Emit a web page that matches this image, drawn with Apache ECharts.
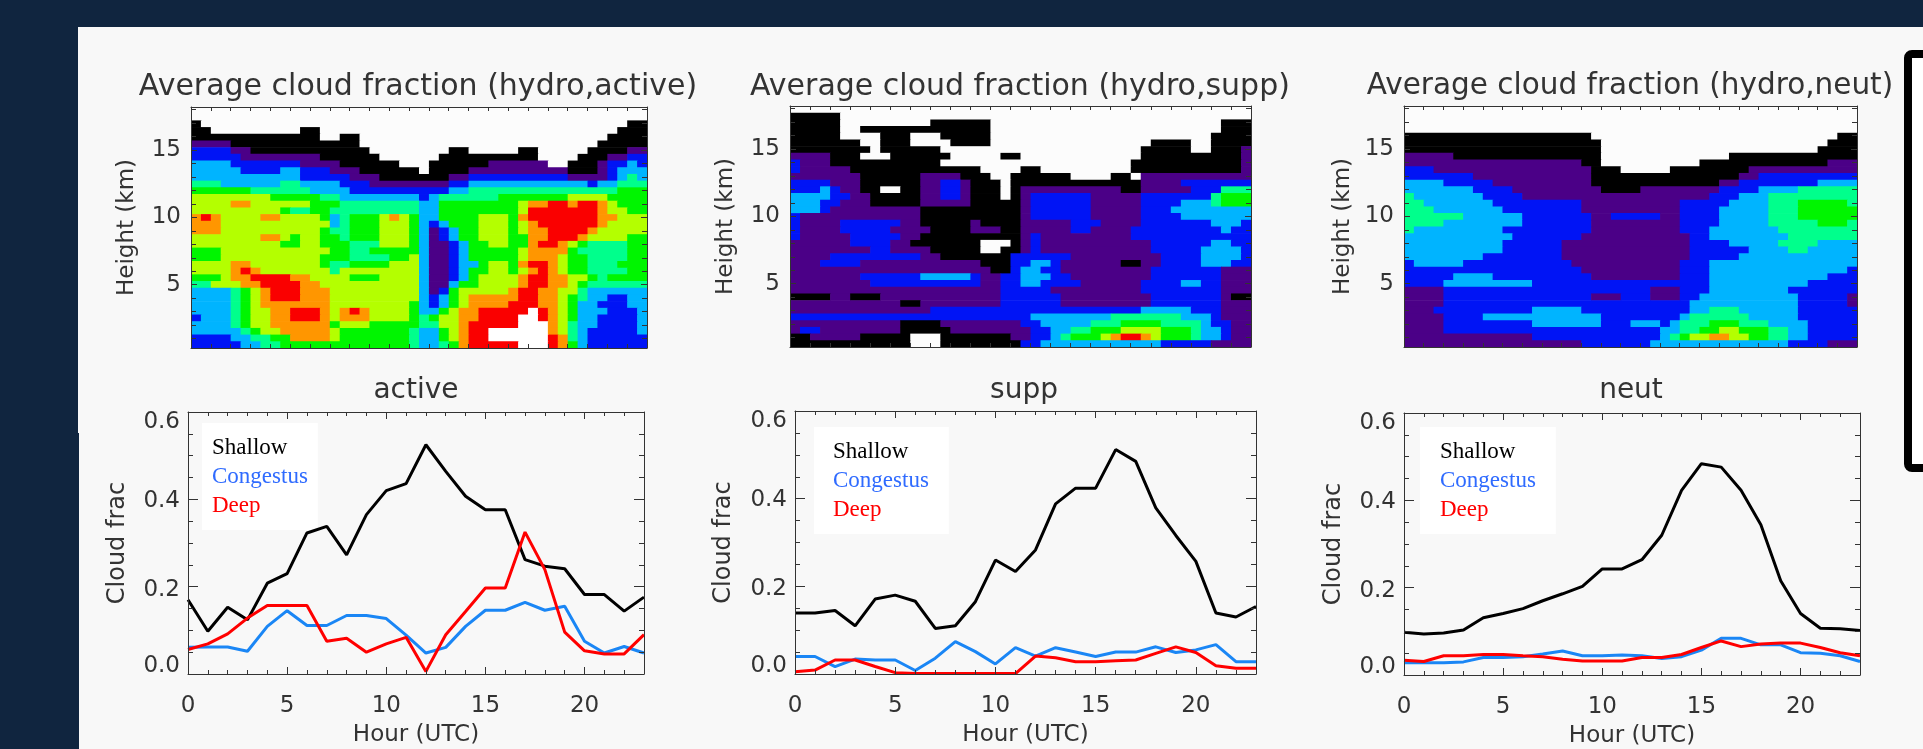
<!DOCTYPE html>
<html><head><meta charset="utf-8">
<style>html,body{margin:0;padding:0;background:#10253f;overflow:hidden}#c{width:1923px;height:749px}</style>
<script src="https://cdn.jsdelivr.net/npm/echarts@6/dist/echarts.min.js"></script>
</head><body><div id="c"></div>
<script>
const hours=[0,1,2,3,4,5,6,7,8,9,10,11,12,13,14,15,16,17,18,19,20,21,22,23];
const activeShallow=[.17,.098,.153,.124,.208,.23,.323,.338,.273,.365,.42,.436,.525,.464,.407,.376,.376,.262,.247,.241,.182,.182,.144,.176];
const activeCongestus=[.061,.062,.062,.052,.109,.145,.111,.111,.134,.134,.127,.089,.048,.061,.109,.146,.146,.164,.146,.155,.075,.048,.063,.048];
const activeDeep=[.056,.069,.092,.128,.157,.157,.157,.075,.082,.05,.069,.084,.006,.09,.143,.197,.197,.325,.239,.096,.053,.046,.046,.09];
const suppShallow=[.139,.139,.145,.11,.171,.18,.166,.104,.11,.165,.26,.234,.283,.388,.424,.424,.512,.485,.379,.316,.257,.139,.13,.154];
const suppCongestus=[.04,.04,.017,.034,.032,.032,.008,.036,.074,.051,.023,.06,.041,.06,.05,.04,.05,.05,.062,.049,.055,.067,.028,.028];
const suppDeep=[.005,.009,.032,.032,.017,.003,.001,.001,.001,.001,.001,.001,.041,.037,.028,.028,.03,.032,.047,.062,.049,.019,.013,.013];
const neutShallow=[.098,.094,.096,.103,.131,.141,.152,.17,.186,.203,.243,.243,.264,.32,.423,.484,.476,.423,.344,.216,.141,.107,.106,.102];
const neutCongestus=[.028,.028,.028,.03,.04,.04,.042,.048,.055,.044,.044,.046,.044,.038,.042,.057,.084,.084,.069,.069,.051,.05,.044,.031];
const neutDeep=[.034,.031,.044,.044,.047,.047,.044,.042,.036,.032,.032,.032,.04,.04,.047,.063,.078,.065,.071,.073,.073,.063,.051,.044];

// Cloud-fraction class per half-hour column, top row 18.2 km down to 0.3 km.
// Token = class character + first half-hour column of that run.
const activeRows=[
".0",".0","00 .1 044","00 .2 011 .13 043","00 .13 015 .17 042","10 04 .17 041",
"20 14 06 .18 026 .28 033 .35 040 144",
"20 15 013 .19 025 .35 039 142 244",
"30 24 111 015 .21 024 130 .36 038 141 242 344 245",
"30 25 39 211 114 017 .23 024 128 038 141 242 343",
"30 211 116 019 126 228 138 242 343 444 345",
"40 33 49 311 215 118 226 328 240 341 443",
"50 46 312 216 326 428 543",
"60 58 413 315 223 324 425 531 638 542",
"60 74 66 512 415 323 525 633 734 836 738 839 741 642 543",
"60 59 410 512 414 323 525 633 834 741 642 544",
"70 81 72 63 77 69 513 314 415 516 619 720 621 522 323 525 629 532 733 834 741 643",
"70 63 314 415 516 619 522 323 224 325 526 629 532 633 734 835 741 642",
"70 63 513 414 516 619 522 323 124 225 326 527 629 532 633 734 836 740 641",
"60 77 69 510 611 513 415 516 619 522 323 124 225 326 527 629 532 734 836 739 640 544",
"60 59 611 513 416 619 522 323 124 226 327 528 630 532 734 835 737 638 539 440 544",
"50 63 514 416 518 323 124 226 327 528 633 734 737 538 439 544",
"50 63 513 416 520 622 323 124 226 327 528 633 734 637 538 440 544",
"60 74 66 513 414 516 620 323 124 226 327 529 630 532 733 834 736 637 538 440 543",
"60 74 85 76 67 414 615 323 124 226 327 528 630 532 633 734 835 736 637 538 440 544",
"50 63 74 86 710 612 516 619 323 124 226 327 528 629 733 834 736 638 540 441 542",
"40 62 75 87 711 613 323 124 326 527 629 733 834 736 638 539 440",
"30 44 55 66 77 88 711 614 323 124 225 526 627 732 833 735 637 439 340",
"30 44 55 66 77 88 711 614 323 224 325 526 627 728 833 735 637 538 439 340 242 344",
"30 44 55 66 77 614 522 323 224 325 526 627 728 832 735 637 538 339 241 344",
"30 44 55 66 78 810 713 614 715 816 717 618 522 323 525 626 727 829 934 835 736 637 538 339 242 345",
"20 31 44 55 66 78 810 713 614 715 618 522 423 524 625 727 829 933 835 736 637 538 339 241 345",
"30 44 55 66 78 514 615 518 423 625 727 828 933 736 637 438 339 241 345",
"30 45 56 67 79 614 515 422 323 525 626 727 828 930 736 637 438 339 240 345",
"20 34 46 58 710 614 515 422 323 525 626 727 828 930 836 737 438 339 240",
"20 35 47 59 422 323 425 526 727 828 933 836 737 538 339 240"];
const suppRows=[
".0","00 .5","00 .5 014 .20 043","00 .5 07 .20 043","00 .5 09 .12 015 .20 042","00 .7 09 .12 016 .20 036 .40 042",
"00 .8 09 .15 035 .40 042 145",
"10 04 .7 010 .16 021 .23 035 145",
"20 11 04 .15 034 145",
"20 11 06 .19 023 .25 034 145",
"10 07 113 017 .20 022 .28 032 .34 135",
"20 14 07 113 215 117 018 .21 022 135 239",
"20 33 24 15 07 .9 011 113 215 117 018 .21 022 123 033 135 240 443",
"30 24 16 08 113 215 117 018 .21 022 123 224 130 235 442 543",
"30 23 15 08 113 018 123 224 130 235 339 442 543",
"30 23 14 013 123 224 130 235 338",
"20 11 013 123 224 130 235 339",
"20 11 25 111 013 118 019 123 228 131 235 342 245",
"20 11 25 110 014 118 021 123 228 130 234 343 244",
"20 11 26 111 013 123 224 125 234",
"10 26 110 012 .19 022 123 224 125 236 342 244",
"10 28 110 014 .19 021 123 224 125 236 341 245",
"10 24 113 015 222 128 237 341 245",
"10 23 17 019 222 324 226 127 033 135 237 341 244",
"10 020 222 323 225 127 236 143",
"10 27 313 218 119 221 323 226 128 236 143",
"10 28 119 221 323 225 129 235 339 241 143",
"10 221 126 235 143",
"00 14 06 19 221 127 236 143 044",
"10 011 113 221 127 236 143",
"10 214 335 240 143",
"20 324 432 339 242 143",
"10 011 115 223 325 430 533 437 341 242 144",
"10 21 13 011 116 224 326 428 530 633 537 440 341 243 144",
"00 12 07 .12 015 122 224 326 427 528 631 732 833 735 636 537 440 341 243 144",
"00 .12 015 223 325 237 142"];
const neutRows=[
".0",".0",".0",".0","00 .19 044","00 .20 043","00 .20 042",
"10 05 .20 033",
"10 018 .20 030 143",
"20 13 019 .22 027 135",
"20 17 019 134 236",
"30 24 19 019 132 234 342",
"30 27 111 020 124 232 336 440",
"40 31 28 112 231 334 437",
"40 32 29 118 228 333 437 540 445",
"40 33 210 118 228 332 437 540",
"40 36 212 119 221 126 228 332 437 540",
"40 34 212 119 228 332 437 542 445",
"40 31 210 119 228 331 438",
"30 211 118 229 331 439",
"30 210 116 229 333 438 342",
"30 210 116 229 335 439 341",
"30 28 116 229 334",
"20 31 26 117 228 331",
"20 118 228 331 245",
"20 35 29 119 228 331 243",
"20 34 213 331 241",
"10 24 125 228 331 239",
"10 24 119 222 125 228 330 240 145",
"10 24 329 240 145",
"10 23 313 218 329 431 334 240",
"10 24 38 220 328 429 335 240",
"10 24 313 220 323 226 327 428 531 434 337 241",
"10 24 326 428 530 632 534 437 339 241",
"10 213 326 427 528 629 731 633 535 437 339 241",
"10 218 325 239 143"];

const classColor={'.':'#fcfcfc','0':'#000000','1':'#4b0087','2':'#0014f5','3':'#00b4ff','4':'#00ff8c','5':'#00f500','6':'#b4ff00','7':'#ff9600','8':'#fa0000','9':'#ffffff'};
const kmTop=18.2,kmBottom=.3,cols=46;
const FONT='"DejaVu Sans ExtraLight","DejaVu Sans"',INK='#333333';

function rowsToCells(rows){
  const step=(kmTop-kmBottom)/rows.length,out=[];
  rows.forEach((r,i)=>{
    const t=r.trim().split(/\s+/);
    t.forEach((k,j)=>{
      const a=+k.slice(1),b=j+1<t.length?+t[j+1].slice(1):cols;
      out.push([a/2,b/2,kmTop-(i+1)*step,kmTop-i*step,k[0]]);
    });
  });
  return out;
}
const renderCell=(params,api)=>{
  const a=api.coord([api.value(0),api.value(3)]),b=api.coord([api.value(1),api.value(2)]);
  const lvl=params.context.cells[params.dataIndex][4];
  return {type:'rect',shape:{x:a[0],y:a[1],width:b[0]-a[0]+.7,height:b[1]-a[1]+.7},style:{fill:classColor[lvl]}};
};

const grids=[],xAxes=[],yAxes=[],series=[],legends=[],titles=[];
const range=(a,b,s)=>{const o=[];for(let v=a;v<=b+1e-9;v+=s)o.push(+v.toFixed(3));return o;};

function axis(list,o){
  list.push({type:'value',gridIndex:o.g,position:o.pos,min:o.min,max:o.max,z:6,
    splitLine:{show:false},
    axisLine:{show:!!o.line,onZero:false,lineStyle:{color:'#333',width:1}},
    axisTick:{show:true,inside:true,length:o.len,customValues:o.ticks,lineStyle:{color:'#333',width:1}},
    axisLabel:o.labels?{show:true,customValues:o.labels,formatter:o.fmt,margin:o.margin,color:INK,fontFamily:FONT,fontSize:23,hideOverlap:false,showMinLabel:true,showMaxLabel:true}:{show:false},
    name:o.name||'',nameLocation:'middle',nameGap:o.gap||0,
    nameTextStyle:{color:INK,fontFamily:FONT,fontSize:o.nameSize||23}
  });
  return list.length-1;
}

function panelFrame(g,xp,yp){
  const xi=axis(xAxes,{g,pos:'bottom',min:0,max:23,len:xp.major,ticks:xp.majorTicks,labels:xp.labels,fmt:v=>String(v),margin:xp.margin,line:1,name:xp.name,gap:xp.gap});
  axis(xAxes,{g,pos:'bottom',min:0,max:23,len:xp.minor,ticks:xp.minorTicks});
  axis(xAxes,{g,pos:'top',min:0,max:23,len:xp.major,ticks:xp.majorTicks,line:1});
  axis(xAxes,{g,pos:'top',min:0,max:23,len:xp.minor,ticks:xp.minorTicks});
  const yi=axis(yAxes,{g,pos:'left',min:yp.min,max:yp.max,len:yp.major,ticks:yp.majorTicks,labels:yp.labels,fmt:yp.fmt,margin:yp.margin,line:1,name:yp.name,gap:yp.gap,nameSize:yp.nameSize});
  axis(yAxes,{g,pos:'left',min:yp.min,max:yp.max,len:yp.minor,ticks:yp.minorTicks});
  axis(yAxes,{g,pos:'right',min:yp.min,max:yp.max,len:yp.major,ticks:yp.majorTicks,line:1});
  axis(yAxes,{g,pos:'right',min:yp.min,max:yp.max,len:yp.minor,ticks:yp.minorTicks});
  return [xi,yi];
}

function contourPanel(box,rows,title,titleBox){
  const g=grids.length;
  grids.push({left:box[0],top:box[2],width:box[1]-box[0],height:box[3]-box[2],show:true,backgroundColor:classColor['.'],borderWidth:0});
  const [xi,yi]=panelFrame(g,
    {major:4,minor:4,majorTicks:range(0,23,5),minorTicks:range(0,23,1)},
    {min:kmBottom,max:kmTop,major:6,minor:5,majorTicks:[5,10,15],minorTicks:range(1,18,1),labels:[5,10,15],fmt:v=>String(v),margin:10,name:'Height (km)',gap:box[0]-titleBox.nameX,nameSize:23});
  const cells=rowsToCells(rows);
  series.push({type:'custom',xAxisIndex:xi,yAxisIndex:yi,clip:true,z:2,silent:true,coordinateSystem:'cartesian2d',
    encode:{x:[0,1],y:[2,3]},
    data:cells.map(c=>c.slice(0,4)),
    renderItem:(p,api)=>{p.context.cells=cells;return renderCell(p,api);}});
  titles.push({text:title,left:titleBox.x,top:titleBox.y,textAlign:'center',textVerticalAlign:'middle',padding:0,textStyle:{color:INK,fontFamily:FONT,fontWeight:'normal',fontSize:titleBox.size}});
}

function linePanel(box,sh,co,de,title,titleBox,lg){
  const g=grids.length;
  grids.push({left:box[0],top:box[2],width:box[1]-box[0],height:box[3]-box[2],show:false});
  const [xi,yi]=panelFrame(g,
    {major:7,minor:4,majorTicks:range(0,23,5),minorTicks:range(0,23,1),labels:[0,5,10,15,20],margin:21,name:'Hour (UTC)',gap:titleBox.hourGap},
    {min:0,max:.6,major:10,minor:5,majorTicks:[0,.2,.4,.6],minorTicks:range(0,.6,.05),labels:[.018,.193,.396,.577],fmt:v=>v.toFixed(1),margin:8,name:'Cloud frac',gap:box[0]-titleBox.nameX,nameSize:24});
  [['Shallow',sh,'#000000'],['Congestus',co,'#1a86f5'],['Deep',de,'#ff0000']].forEach(s=>{
    series.push({type:'line',name:s[0],xAxisIndex:xi,yAxisIndex:yi,z:3,silent:true,showSymbol:false,symbol:'none',
      lineStyle:{color:s[2],width:3},itemStyle:{color:s[2]},data:hours.map((h,i)=>[h,s[1][i]])});
  });
  titles.push({text:title,left:titleBox.x,top:titleBox.y,textAlign:'center',textVerticalAlign:'middle',padding:0,textStyle:{color:INK,fontFamily:FONT,fontWeight:'normal',fontSize:28}});
  legends.push({show:true,orient:'vertical',left:lg.x,top:lg.y,selectedMode:false,itemWidth:0,itemHeight:0,icon:'rect',itemGap:lg.gap,align:'left',
    padding:lg.pad,backgroundColor:'#ffffff',borderWidth:0,z:2,
    data:[{name:'Shallow',textStyle:{color:'#000'}},{name:'Congestus',textStyle:{color:'#2f6bff'}},{name:'Deep',textStyle:{color:'#ff0000'}}],
    textStyle:{fontFamily:'"Liberation Serif"',fontSize:23,padding:0}});
}

contourPanel([191,647,107,348],activeRows,'Average cloud fraction (hydro,active)',{x:418,y:87,size:30,nameX:139});
contourPanel([790,1251,106,347],suppRows,'Average cloud fraction (hydro,supp)',{x:1020,y:87,size:30,nameX:738});
contourPanel([1404,1857,106,347],neutRows,'Average cloud fraction (hydro,neut)',{x:1630,y:86,size:29.5,nameX:1355});
linePanel([188,644,412,674],activeShallow,activeCongestus,activeDeep,'active',{x:416,y:391,nameX:130,hourGap:50},{x:202,y:423,pad:[13,10,13,5],gap:6});
linePanel([795,1256,411,674],suppShallow,suppCongestus,suppDeep,'supp',{x:1024,y:391,nameX:736,hourGap:50},{x:814,y:427,pad:[13,20,13,14],gap:6});
linePanel([1404,1860,413,675],neutShallow,neutCongestus,neutDeep,'neut',{x:1631,y:391,nameX:1346,hourGap:50},{x:1420,y:427,pad:[13,20,13,15],gap:6});

const chart=echarts.init(document.getElementById('c'),null,{renderer:'canvas'});
chart.setOption({
  animation:false,backgroundColor:'#10253f',
  title:titles,grid:grids,xAxis:xAxes,yAxis:yAxes,series,legend:legends,tooltip:{show:false},
  graphic:[
    {type:'rect',z:-10,silent:true,shape:{x:78,y:27,width:1845,height:722},style:{fill:'#f8f8f8'}},
    {type:'rect',z:-9,silent:true,shape:{x:78,y:433,width:1,height:316},style:{fill:'#10253f'}},
    {type:'rect',z:-9,silent:true,shape:{x:1908,y:54,width:40,height:414,r:4},style:{fill:'#ffffff',stroke:'#000000',lineWidth:8}}
  ]
});
</script></body></html>
